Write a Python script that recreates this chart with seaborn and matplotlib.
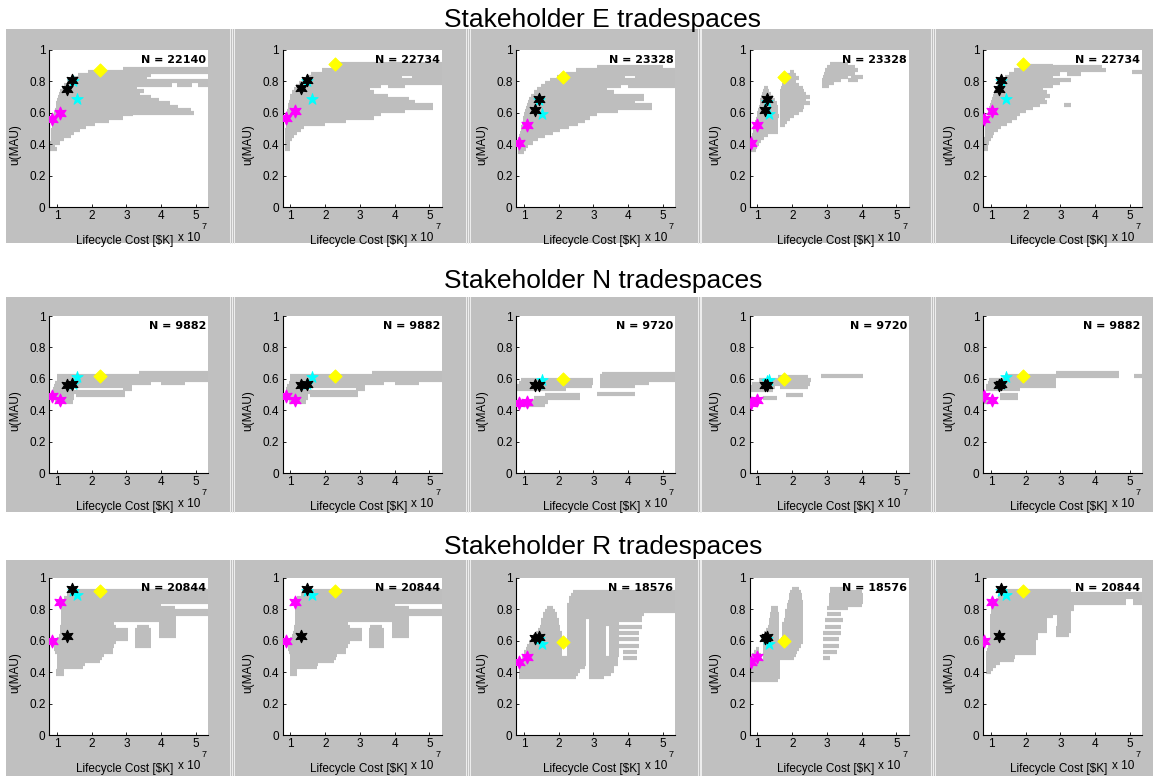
import matplotlib
matplotlib.use("Agg")
import matplotlib.pyplot as plt
import seaborn as sns
import pandas as pd
from matplotlib.lines import Line2D
from matplotlib.patches import Rectangle

plt.rcParams['font.family'] = ['Liberation Sans', 'DejaVu Sans']

W, H, DPI = 1153, 776, 100

ROW_TITLES = ["Stakeholder E tradespaces", "Stakeholder N tradespaces", "Stakeholder R tradespaces"]
N_E = [22140, 22734, 23328, 23328, 22734]
N_N = [9882, 9882, 9720, 9720, 9882]
N_R = [20844, 20844, 18576, 18576, 20844]

X_TICKS = [1, 2, 3, 4, 5]
Y_TICKS = [0, 0.2, 0.4, 0.6, 0.8, 1]
Y_TICKLABELS = ["0", "0.2", "0.4", "0.6", "0.8", "1"]

# lifecycle cost (x 10^7 $K) of highlighted designs, one pair per column
MAG_COST = [[0.85, 1.10], [0.87, 1.13], [0.85, 1.10], [0.80, 1.00], [0.80, 1.02]]
BLK_COST = [[1.29, 1.43], [1.31, 1.49], [1.31, 1.44], [1.21, 1.26], [1.22, 1.29]]
CYN_COST = [[1.45, 1.58], [1.48, 1.62], [1.44, 1.52], [1.26, 1.33], [1.30, 1.43]]
YEL_COST = [2.24, 2.28, 2.12, 1.77, 1.92]

# utility of highlighted designs, per stakeholder row, per column
MAG_U_E = [[0.56, 0.60], [0.565, 0.61], [0.41, 0.52], [0.41, 0.52], [0.56, 0.61]]
BLK_U_E = [[0.75, 0.81], [0.755, 0.81], [0.62, 0.69], [0.62, 0.69], [0.75, 0.81]]
CYN_U_E = [[0.80, 0.69], [0.80, 0.69], [0.68, 0.59], [0.67, 0.59], [0.80, 0.69]]
YEL_U_E = [0.87, 0.91, 0.83, 0.83, 0.91]

MAG_U_N = [[0.49, 0.465], [0.49, 0.465], [0.445, 0.455], [0.445, 0.465], [0.49, 0.465]]
BLK_U_N = [[0.56, 0.565], [0.56, 0.565], [0.56, 0.56], [0.56, 0.56], [0.56, 0.565]]
CYN_U_N = [[0.57, 0.61], [0.57, 0.61], [0.57, 0.59], [0.585, 0.59], [0.57, 0.61]]
YEL_U_N = [0.62, 0.62, 0.60, 0.60, 0.62]

MAG_U_R = [[0.60, 0.85], [0.60, 0.85], [0.465, 0.495], [0.465, 0.495], [0.60, 0.85]]
BLK_U_R = [[0.63, 0.93], [0.63, 0.93], [0.62, 0.625], [0.62, 0.625], [0.63, 0.93]]
CYN_U_R = [[0.92, 0.89], [0.92, 0.89], [0.61, 0.58], [0.61, 0.58], [0.92, 0.89]]
YEL_U_R = [0.92, 0.92, 0.595, 0.60, 0.92]

# tradespace clouds: (u, cost_start, cost_end) horizontal runs of designs
CLOUD_E1 = [
    (0.37, 0.80, 1.00), (0.39, 0.80, 0.95), (0.41, 0.80, 1.10), (0.43, 0.82, 1.20),
    (0.45, 0.82, 1.40), (0.47, 0.84, 1.50), (0.49, 0.84, 1.65), (0.51, 0.86, 1.85),
    (0.53, 0.86, 2.10), (0.55, 0.88, 2.50), (0.57, 0.90, 2.90), (0.59, 0.92, 3.20),
    (0.60, 0.92, 4.95), (0.62, 0.94, 4.85), (0.64, 0.96, 4.50), (0.66, 0.98, 4.25),
    (0.68, 1.00, 3.95), (0.70, 1.02, 3.70), (0.72, 1.06, 3.40), (0.74, 1.10, 3.50),
    (0.76, 1.15, 3.30), (0.78, 1.20, 4.30), (0.78, 4.45, 4.90), (0.78, 5.05, 5.35),
    (0.80, 1.30, 5.35), (0.82, 1.45, 3.60), (0.84, 1.60, 3.70), (0.86, 1.90, 5.35),
    (0.88, 2.90, 5.35),
]
CLOUD_E2 = [
    (0.37, 0.84, 0.98), (0.39, 0.84, 0.98), (0.41, 0.84, 0.98), (0.43, 0.84, 1.05),
    (0.45, 0.84, 1.10), (0.47, 0.85, 1.20), (0.49, 0.85, 1.30), (0.51, 0.86, 1.40),
    (0.53, 0.86, 2.00), (0.55, 0.87, 2.60), (0.57, 0.88, 3.40), (0.59, 0.88, 3.60),
    (0.61, 0.90, 4.30), (0.63, 0.92, 5.10), (0.65, 0.94, 5.10), (0.67, 0.96, 4.60),
    (0.69, 0.98, 4.40), (0.71, 1.00, 3.80), (0.73, 1.05, 3.40), (0.75, 1.10, 3.30),
    (0.77, 1.15, 3.60), (0.77, 3.80, 4.30), (0.79, 1.25, 5.35), (0.81, 1.35, 5.35),
    (0.83, 1.45, 4.20), (0.83, 4.50, 5.35), (0.85, 1.60, 5.35), (0.87, 1.90, 5.35),
    (0.89, 2.40, 5.35), (0.91, 2.40, 5.35),
]
CLOUD_E3 = [
    (0.35, 0.82, 1.00), (0.37, 0.82, 1.05), (0.39, 0.82, 1.12), (0.41, 0.82, 1.25),
    (0.43, 0.84, 1.40), (0.45, 0.86, 1.60), (0.47, 0.88, 1.85), (0.49, 0.90, 2.05),
    (0.51, 0.92, 2.30), (0.53, 0.94, 2.55), (0.55, 0.96, 2.75), (0.57, 0.98, 2.90),
    (0.59, 1.00, 3.10), (0.61, 1.02, 3.70), (0.63, 1.05, 4.70), (0.65, 1.08, 4.70),
    (0.67, 1.12, 4.20), (0.69, 1.15, 4.45), (0.71, 1.20, 4.45), (0.73, 1.30, 3.60),
    (0.75, 1.38, 3.40), (0.77, 1.48, 3.80), (0.77, 4.00, 5.35), (0.79, 1.60, 5.35),
    (0.81, 1.75, 5.35), (0.83, 1.95, 3.90), (0.83, 4.20, 5.35), (0.85, 2.20, 5.35),
    (0.87, 2.50, 5.35), (0.89, 3.10, 5.00),
]
CLOUD_E4 = [
    (0.36, 0.78, 0.95), (0.38, 0.78, 1.00), (0.40, 0.79, 1.05), (0.42, 0.80, 1.10),
    (0.44, 0.82, 1.20), (0.46, 0.84, 1.30), (0.48, 0.86, 1.60), (0.50, 0.88, 1.60),
    (0.52, 0.90, 1.60), (0.54, 0.92, 1.60), (0.56, 0.95, 1.60), (0.58, 0.98, 1.62),
    (0.60, 1.00, 1.60), (0.62, 1.02, 1.60), (0.64, 1.04, 1.58), (0.66, 1.06, 1.55),
    (0.68, 1.08, 1.50), (0.70, 1.10, 1.45), (0.72, 1.12, 1.38), (0.74, 1.15, 1.32),
    (0.76, 1.18, 1.30),
    (0.52, 1.65, 1.80), (0.54, 1.66, 1.85), (0.56, 1.66, 1.95), (0.58, 1.66, 2.05),
    (0.60, 1.66, 2.20), (0.62, 1.66, 2.30), (0.64, 1.66, 2.35), (0.66, 1.66, 2.50),
    (0.68, 1.66, 2.40), (0.70, 1.66, 2.50), (0.72, 1.66, 2.40), (0.74, 1.66, 2.35),
    (0.76, 1.68, 2.30), (0.78, 1.70, 2.20), (0.80, 1.75, 2.10), (0.82, 1.80, 2.20),
    (0.84, 1.85, 2.10), (0.86, 1.95, 2.05),
    (0.77, 2.85, 3.05), (0.79, 2.85, 3.20), (0.81, 2.87, 3.40), (0.81, 3.60, 3.90),
    (0.83, 2.90, 3.60), (0.83, 3.70, 4.05), (0.85, 2.92, 3.80), (0.87, 2.95, 3.90),
    (0.89, 3.00, 3.80), (0.91, 3.10, 3.60),
]
CLOUD_E5 = [
    (0.37, 0.80, 0.92), (0.39, 0.80, 0.92), (0.41, 0.80, 0.95), (0.43, 0.80, 1.00),
    (0.45, 0.82, 1.05), (0.47, 0.82, 1.10), (0.49, 0.83, 1.20), (0.51, 0.84, 1.30),
    (0.53, 0.85, 1.45), (0.55, 0.86, 1.60), (0.57, 0.88, 1.75), (0.59, 0.90, 1.85),
    (0.61, 0.92, 2.00), (0.63, 0.95, 2.20), (0.65, 0.98, 2.40), (0.65, 3.10, 3.30),
    (0.67, 1.00, 2.60), (0.69, 1.02, 2.55), (0.71, 1.05, 2.70), (0.73, 1.08, 2.60),
    (0.75, 1.12, 2.50), (0.77, 1.16, 2.80), (0.79, 1.22, 3.00), (0.81, 1.30, 3.30),
    (0.83, 1.40, 2.80), (0.85, 1.52, 3.00), (0.85, 3.20, 3.60), (0.87, 1.65, 4.30),
    (0.86, 5.05, 5.35), (0.89, 1.85, 4.20), (0.90, 2.00, 2.80),
]
CLOUD_N1 = [
    (0.455, 0.95, 1.45), (0.475, 0.85, 1.50), (0.495, 0.85, 1.50), (0.495, 1.55, 2.95),
    (0.515, 0.87, 2.95), (0.535, 0.88, 1.50), (0.535, 2.90, 3.15), (0.555, 0.90, 3.15),
    (0.575, 0.95, 3.70), (0.575, 4.00, 4.70), (0.595, 1.00, 5.35), (0.615, 1.00, 5.35),
    (0.635, 3.35, 5.35),
]
CLOUD_N3 = [
    (0.435, 0.80, 1.60), (0.455, 0.80, 1.70), (0.475, 1.30, 2.60), (0.495, 1.60, 2.60),
    (0.505, 3.10, 4.20), (0.535, 0.80, 2.20), (0.555, 0.80, 2.95), (0.555, 3.20, 4.20),
    (0.575, 0.85, 3.00), (0.575, 3.20, 4.60), (0.595, 0.90, 3.00), (0.595, 3.20, 5.35),
    (0.615, 3.20, 5.35), (0.63, 3.25, 5.35),
]
CLOUD_N4 = [
    (0.48, 1.17, 1.57), (0.50, 1.82, 2.30), (0.53, 0.80, 1.45), (0.55, 0.80, 1.50),
    (0.55, 1.65, 2.45), (0.57, 0.85, 2.50), (0.59, 1.05, 2.53), (0.61, 1.60, 2.45),
    (0.62, 2.82, 4.03),
]
CLOUD_N5 = [
    (0.455, 0.80, 1.15), (0.48, 1.26, 1.77), (0.50, 1.26, 1.77), (0.535, 0.87, 1.85),
    (0.555, 0.87, 2.87), (0.575, 0.90, 2.87), (0.595, 0.95, 2.87), (0.615, 1.40, 4.68),
    (0.62, 5.13, 5.35), (0.635, 2.87, 4.68),
]
CLOUD_R1 = [
    (0.39, 0.98, 1.20), (0.41, 0.98, 1.20), (0.43, 1.00, 1.75), (0.45, 1.00, 1.80),
    (0.47, 1.00, 2.25), (0.49, 1.00, 2.30), (0.51, 1.00, 2.35), (0.53, 0.95, 2.60),
    (0.55, 0.92, 2.60), (0.57, 0.92, 2.65), (0.57, 3.26, 3.70), (0.59, 0.92, 2.70),
    (0.59, 3.26, 3.70), (0.61, 1.00, 3.05), (0.61, 3.26, 3.70), (0.63, 1.05, 3.05),
    (0.63, 3.26, 3.70), (0.63, 3.93, 4.42), (0.65, 1.08, 3.05), (0.65, 3.26, 3.70),
    (0.65, 3.93, 4.42), (0.67, 1.10, 3.05), (0.67, 3.26, 3.70), (0.67, 3.93, 4.42),
    (0.69, 1.10, 2.70), (0.69, 3.30, 3.65), (0.69, 3.93, 4.42), (0.71, 1.12, 2.65),
    (0.71, 3.93, 4.42), (0.73, 1.12, 4.42), (0.75, 1.12, 4.42), (0.77, 1.12, 5.35),
    (0.79, 1.12, 5.35), (0.81, 1.12, 4.40), (0.83, 1.15, 4.00), (0.85, 1.15, 5.35),
    (0.87, 1.20, 5.35), (0.89, 1.30, 5.35), (0.91, 1.40, 5.35), (0.92, 1.45, 5.35),
]
CLOUD_R3 = [
    (0.37, 0.86, 2.50), (0.37, 2.86, 3.30), (0.39, 0.86, 2.55), (0.39, 2.86, 3.50),
    (0.41, 0.86, 2.60), (0.41, 2.86, 3.60), (0.43, 0.86, 2.75), (0.43, 2.86, 3.60),
    (0.45, 0.86, 2.78), (0.45, 2.86, 3.70), (0.47, 0.88, 2.78), (0.47, 2.86, 3.70),
    (0.49, 0.95, 2.78), (0.49, 2.86, 3.70), (0.49, 3.85, 4.25),
    (0.51, 1.00, 2.10), (0.51, 2.25, 2.78), (0.51, 2.86, 3.35), (0.51, 3.45, 3.75),
    (0.53, 1.00, 2.10), (0.53, 2.25, 2.78), (0.53, 2.86, 3.35), (0.53, 3.45, 3.75), (0.53, 3.85, 4.25),
    (0.55, 1.05, 2.10), (0.55, 2.25, 2.78), (0.55, 2.86, 3.35), (0.55, 3.45, 3.75),
    (0.57, 1.10, 2.10), (0.57, 2.25, 2.78), (0.57, 2.86, 3.35), (0.57, 3.45, 4.30),
    (0.59, 1.15, 2.10), (0.59, 2.25, 2.78), (0.59, 2.86, 3.35), (0.59, 3.45, 3.75),
    (0.61, 1.20, 2.10), (0.61, 2.25, 2.78), (0.61, 2.86, 3.35), (0.61, 3.45, 4.30),
    (0.63, 1.25, 2.10), (0.63, 2.25, 2.78), (0.63, 2.86, 3.35), (0.63, 3.45, 3.75),
    (0.65, 1.35, 2.10), (0.65, 2.25, 2.78), (0.65, 2.86, 3.35), (0.65, 3.45, 4.30),
    (0.67, 1.40, 2.05), (0.67, 2.25, 2.78), (0.67, 2.86, 3.35), (0.67, 3.45, 3.75),
    (0.69, 1.45, 2.05), (0.69, 2.25, 2.78), (0.69, 2.86, 3.35), (0.69, 3.45, 4.40),
    (0.71, 1.50, 2.00), (0.71, 2.25, 2.78), (0.71, 2.86, 3.75),
    (0.73, 1.50, 2.00), (0.73, 2.25, 2.78), (0.73, 2.86, 4.40),
    (0.75, 1.55, 1.95), (0.75, 2.25, 4.40), (0.77, 1.55, 1.95), (0.77, 2.25, 4.45),
    (0.79, 1.60, 1.90), (0.79, 2.25, 5.35), (0.81, 1.65, 1.85), (0.81, 2.25, 5.35),
    (0.83, 2.25, 5.35), (0.85, 2.30, 5.35), (0.87, 2.30, 5.35), (0.89, 2.35, 5.35),
    (0.91, 2.40, 5.35),
]
CLOUD_R4 = [
    (0.35, 0.80, 1.60), (0.37, 0.79, 1.65), (0.39, 0.79, 1.65), (0.41, 0.79, 1.65),
    (0.43, 0.80, 1.65), (0.45, 0.80, 1.65), (0.47, 0.80, 1.65),
    (0.49, 0.82, 1.10), (0.49, 1.15, 2.05), (0.49, 2.88, 3.10),
    (0.51, 0.85, 1.10), (0.51, 1.15, 2.10),
    (0.53, 0.90, 1.05), (0.53, 1.15, 2.15), (0.53, 2.88, 3.30),
    (0.55, 0.95, 1.05), (0.55, 1.15, 2.20),
    (0.57, 1.15, 2.25), (0.57, 2.88, 3.35),
    (0.59, 1.15, 2.30),
    (0.61, 1.15, 1.62), (0.61, 1.68, 2.30), (0.61, 2.90, 3.35),
    (0.63, 1.18, 1.62), (0.63, 1.70, 2.30),
    (0.65, 1.20, 1.62), (0.65, 1.70, 2.30), (0.65, 2.90, 3.40),
    (0.67, 1.25, 1.62), (0.67, 1.72, 2.30),
    (0.69, 1.30, 1.62), (0.69, 1.72, 2.30), (0.69, 2.95, 3.40),
    (0.71, 1.32, 1.62), (0.71, 1.72, 2.30),
    (0.73, 1.32, 1.62), (0.73, 1.75, 2.30), (0.73, 2.95, 3.45),
    (0.75, 1.35, 1.62), (0.75, 1.78, 2.30),
    (0.77, 1.35, 1.62), (0.77, 1.80, 2.30), (0.77, 3.00, 3.40),
    (0.79, 1.38, 1.60), (0.79, 1.80, 2.30),
    (0.81, 1.40, 1.58), (0.81, 1.85, 2.30), (0.81, 3.00, 3.60),
    (0.83, 1.85, 2.30), (0.83, 3.05, 4.00), (0.85, 1.88, 2.30), (0.85, 3.05, 4.05),
    (0.87, 1.90, 2.28), (0.87, 3.05, 4.05), (0.89, 1.92, 2.28), (0.89, 3.05, 4.05),
    (0.91, 1.95, 2.25), (0.91, 3.10, 4.00), (0.93, 2.00, 2.20), (0.93, 3.10, 3.60),
]
CLOUD_R5 = [
    (0.40, 0.85, 1.00), (0.42, 0.85, 1.05), (0.44, 0.85, 1.15), (0.46, 0.85, 1.25),
    (0.48, 0.85, 1.65), (0.50, 0.85, 1.70), (0.52, 0.85, 2.30), (0.54, 0.88, 2.30),
    (0.56, 0.90, 2.30), (0.58, 0.92, 2.30), (0.60, 0.95, 2.30), (0.62, 0.97, 2.35),
    (0.64, 0.98, 2.35), (0.64, 2.88, 3.25), (0.66, 0.98, 2.60), (0.66, 2.88, 3.30),
    (0.68, 0.98, 2.60), (0.68, 2.88, 3.30), (0.70, 0.98, 2.60), (0.70, 2.90, 3.30),
    (0.72, 0.98, 2.60), (0.72, 2.90, 3.30), (0.74, 0.98, 2.60), (0.74, 2.90, 3.30),
    (0.76, 0.98, 2.80), (0.76, 2.90, 3.30), (0.78, 1.00, 3.30), (0.80, 1.00, 3.40),
    (0.82, 1.05, 3.40), (0.84, 1.10, 4.90), (0.84, 5.10, 5.35), (0.86, 1.15, 4.90),
    (0.86, 5.10, 5.35), (0.88, 1.20, 5.35), (0.90, 1.25, 5.35), (0.92, 1.30, 3.30),
]

CLOUDS = [
    [CLOUD_E1, CLOUD_E2, CLOUD_E3, CLOUD_E4, CLOUD_E5],
    [CLOUD_N1, CLOUD_N1, CLOUD_N3, CLOUD_N4, CLOUD_N5],
    [CLOUD_R1, CLOUD_R1, CLOUD_R3, CLOUD_R4, CLOUD_R5],
]
N_ROWS = [N_E, N_N, N_R]
MAG_U = [MAG_U_E, MAG_U_N, MAG_U_R]
BLK_U = [BLK_U_E, BLK_U_N, BLK_U_R]
CYN_U = [CYN_U_E, CYN_U_N, CYN_U_R]
YEL_U = [YEL_U_E, YEL_U_N, YEL_U_R]

# ---------------- layout (pixels) ----------------
PANEL_BG = "#c0c0c0"
CLOUD_COL = "#bebebe"
ROW_BAND = [(29, 243), (297, 512), (560, 776)]
ROW_AX_TOP = [50, 316, 578]
TITLE_BASE = [27, 288, 554]
AX_LEFT0, AX_STEP, AX_W, AX_H = 49, 233.5, 159, 157
SEPS = [229, 465, 697, 930]
XLIM = (0.77, 5.35)

fig = plt.figure(figsize=(W / DPI, H / DPI), dpi=DPI)
fig.patch.set_facecolor("white")

def fx(px):
    return px / W

def fy(py):
    return 1 - py / H

hexagram = (6, 1, 0)

for r in range(3):
    y0, y1 = ROW_BAND[r]
    fig.add_artist(Rectangle((fx(6), fy(y1)), fx(W - 6), (y1 - y0) / H,
                             transform=fig.transFigure, facecolor=PANEL_BG,
                             edgecolor="none", zorder=0))
    for s in SEPS:
        for off in (0.5, 2.5, 4.5):
            fig.add_artist(Line2D([fx(s + off)] * 2, [fy(y1), fy(y0)],
                                  transform=fig.transFigure, color="#efefef",
                                  lw=0.7, zorder=1))
    fig.text(fx(603), fy(TITLE_BASE[r]), ROW_TITLES[r], ha="center", va="baseline",
             fontsize=19, color="black")

    for c in range(5):
        left = AX_LEFT0 + AX_STEP * c
        top = ROW_AX_TOP[r]
        ax = fig.add_axes([fx(left), fy(top + AX_H), AX_W / W, AX_H / H])
        ax.set_facecolor("white")

        cloud = pd.DataFrame(CLOUDS[r][c], columns=["u", "c0", "c1"])
        ax.hlines(cloud["u"], cloud["c0"], cloud["c1"], colors=CLOUD_COL,
                  linewidth=3.0, zorder=1)

        mag = pd.DataFrame({"cost": MAG_COST[c], "u": MAG_U[r][c]})
        blk = pd.DataFrame({"cost": BLK_COST[c], "u": BLK_U[r][c]})
        cyn = pd.DataFrame({"cost": CYN_COST[c], "u": CYN_U[r][c]})
        yel = pd.DataFrame({"cost": [YEL_COST[c]], "u": [YEL_U[r][c]]})

        sns.scatterplot(data=mag, x="cost", y="u", ax=ax, marker=hexagram, s=85,
                        color="#ff00ff", edgecolor="#ff00ff", linewidth=0.8, zorder=3)
        sns.scatterplot(data=cyn, x="cost", y="u", ax=ax, marker="*", s=75,
                        color="#00ffff", edgecolor="#00ffff", linewidth=0.6, zorder=3)
        sns.scatterplot(data=blk, x="cost", y="u", ax=ax, marker=hexagram, s=80,
                        color="black", edgecolor="black", linewidth=0.8, zorder=4)
        sns.scatterplot(data=yel, x="cost", y="u", ax=ax, marker="D", s=44,
                        color="#ffff00", edgecolor="#ffff00", linewidth=0.8, zorder=5)

        ax.set_xlim(*XLIM)
        ax.set_ylim(0, 1)
        ax.set_xticks(X_TICKS)
        ax.set_xticklabels([str(t) for t in X_TICKS])
        ax.set_yticks(Y_TICKS)
        ax.set_yticklabels(Y_TICKLABELS)
        ax.tick_params(direction="in", length=2.5, width=0.6, labelsize=8.5,
                       colors="black", pad=2.5)
        for side in ("top", "right"):
            ax.spines[side].set_visible(False)
        for side in ("left", "bottom"):
            ax.spines[side].set_color("black")
            ax.spines[side].set_linewidth(0.8)

        ax.set_xlabel("Lifecycle Cost [\\$K]", fontsize=8.5)
        ax.xaxis.set_label_coords(0.478, -0.178)
        ax.set_ylabel("u(MAU)", fontsize=8.5)
        ax.yaxis.set_label_coords(-0.175, 0.40)
        ax.text(0.81, -0.195, "x 10", transform=ax.transAxes, fontsize=8.5,
                ha="left", va="center")
        ax.text(0.975, -0.125, "7", transform=ax.transAxes, fontsize=6.5,
                ha="center", va="center")
        ax.text(0.99, 0.965, f"N = {N_ROWS[r][c]}", transform=ax.transAxes,
                ha="right", va="top", fontsize=8, fontweight="bold",
                family="DejaVu Sans", zorder=6)
        if ax.get_legend() is not None:
            ax.get_legend().remove()

fig.savefig("out.png", dpi=DPI)
